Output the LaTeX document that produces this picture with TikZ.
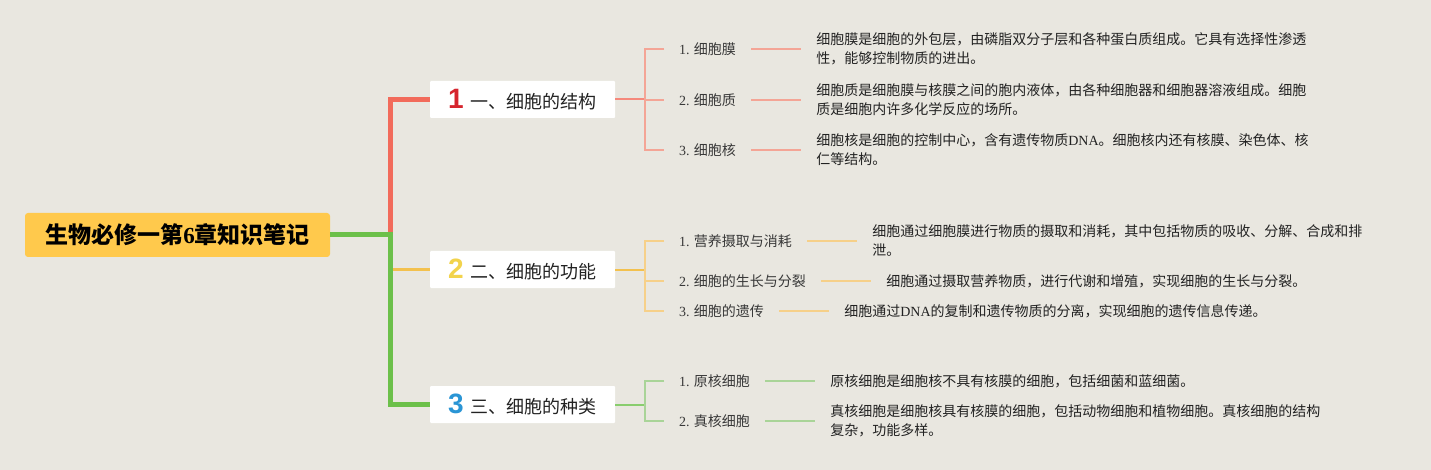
\documentclass[tikz,border=0pt]{standalone}
\usepackage{fontspec}
\setmainfont{Noto Sans CJK SC}
\newfontfamily\enfont{Liberation Serif}
\newfontfamily\numfont{Liberation Sans}
\usepackage{tikz}
\usetikzlibrary{positioning,calc}
\usepackage{xcolor}
\definecolor{mmbg}{HTML}{E9E7E0}
\definecolor{mmroot}{HTML}{FFC94C}
\definecolor{mmtext}{HTML}{222222}
\definecolor{mmred}{HTML}{F26B5B}
\definecolor{mmredlt}{HTML}{F4A596}
\definecolor{mmyel}{HTML}{F3C14E}
\definecolor{mmyellt}{HTML}{F6D089}
\definecolor{mmgreen}{HTML}{6CC04A}
\definecolor{mmgreenlt}{HTML}{A9D498}
\definecolor{numred}{HTML}{D6252E}
\definecolor{numyel}{HTML}{F2D34C}
\definecolor{numblue}{HTML}{2A95D5}
\newcommand{\en}[1]{{\enfont #1}}
\newcommand{\badge}[2]{{\numfont\bfseries\fontsize{28}{28}\selectfont\textcolor{#1}{#2}}\hspace{7pt}}

\begin{document}
\begin{tikzpicture}[
  x=1pt, y=-1pt,
  node distance=50pt,
  root/.style={
    rectangle, fill=mmroot, rounded corners=3pt,
    minimum width=305pt, minimum height=44pt, inner sep=0pt,
    font=\bfseries\fontsize{23}{23}\selectfont, text=black
  },
  topic/.style={
    rectangle, fill=white, rounded corners=1pt,
    minimum width=185pt, minimum height=37pt, inner sep=0pt,
    font=\fontsize{18}{18}\selectfont, text=mmtext
  },
  leaf/.style={
    anchor=west, inner xsep=15pt, inner ysep=2pt,
    font=\fontsize{14}{19}\selectfont, text=mmtext!90
  },
  desc/.style={
    inner xsep=15pt, inner ysep=2pt, align=left,
    font=\fontsize{14}{19}\selectfont, text=mmtext
  },
  trunk/.style={line width=5pt},
]
  \fill[mmbg] (0,0) rectangle (1431,470);
  \useasboundingbox (0,0) rectangle (1431,470);

  % Root and topics
  \node[root] (root) at (177.5,235) {生物必修一第\en{6}章知识笔记};
  \node[topic] (b1) at (522.5,99.5) {\badge{numred}{1}一、细胞的结构};
  \node[topic] (b2) at (522.5,269.5) {\badge{numyel}{2}二、细胞的功能};
  \node[topic] (b3) at (522.5,404.5) {\badge{numblue}{3}三、细胞的种类};
  \coordinate (hub) at (390,235);

  % Leaves
  \node[leaf] (l11) at (664,49) {\en{1.} 细胞膜};
  \node[leaf] (l12) at (664,100) {\en{2.} 细胞质};
  \node[leaf] (l13) at (664,150) {\en{3.} 细胞核};
  \node[leaf] (l21) at (664,241) {\en{1.} 营养摄取与消耗};
  \node[leaf] (l22) at (664,281) {\en{2.} 细胞的生长与分裂};
  \node[leaf] (l23) at (664,311) {\en{3.} 细胞的遗传};
  \node[leaf] (l31) at (664,381) {\en{1.} 原核细胞};
  \node[leaf] (l32) at (664,421) {\en{2.} 真核细胞};

  % Descriptions
  \node[desc, right=of l11] (d11) {细胞膜是细胞的外包层，由磷脂双分子层和各种蛋白质组成。它具有选择性渗透\\性，能够控制物质的进出。};
  \node[desc, right=of l12] (d12) {细胞质是细胞膜与核膜之间的胞内液体，由各种细胞器和细胞器溶液组成。细胞\\质是细胞内许多化学反应的场所。};
  \node[desc, right=of l13] (d13) {细胞核是细胞的控制中心，含有遗传物质\en{DNA}。细胞核内还有核膜、染色体、核\\仁等结构。};
  \node[desc, right=of l21] (d21) {细胞通过细胞膜进行物质的摄取和消耗，其中包括物质的吸收、分解、合成和排\\泄。};
  \node[desc, right=of l22] (d22) {细胞通过摄取营养物质，进行代谢和增殖，实现细胞的生长与分裂。};
  \node[desc, right=of l23] (d23) {细胞通过\en{DNA}的复制和遗传物质的分离，实现细胞的遗传信息传递。};
  \node[desc, right=of l31] (d31) {原核细胞是细胞核不具有核膜的细胞，包括细菌和蓝细菌。};
  \node[desc, right=of l32] (d32) {真核细胞是细胞核具有核膜的细胞，包括动物细胞和植物细胞。真核细胞的结构\\复杂，功能多样。};

  % Trunk lines
  \draw[trunk, mmred] (hub) |- (b1.west);
  \draw[mmyel, line width=2.5pt] (hub |- b2.west) -- (b2.west);
  \draw[trunk, mmgreen] (root.east) -- (hub) |- (b3.west);

  % Brackets
  \coordinate (k1) at (645,99.5);
  \coordinate (k2) at (645,269.5);
  \coordinate (k3) at (645,404.5);
  \draw[mmred!80, line width=2pt] (b1.east) -- (k1);
  \draw[mmredlt, line width=1.3pt] (l11.west) -| (k1) |- (l13.west);
  \draw[mmredlt, line width=1.3pt] (k1) |- (l12.west);
  \draw[mmyel, line width=2pt] (b2.east) -- (k2);
  \draw[mmyellt, line width=1.3pt] (l21.west) -| (k2) |- (l23.west);
  \draw[mmyellt, line width=1.3pt] (k2) |- (l22.west);
  \draw[mmgreen!80, line width=2pt] (b3.east) -- (k3);
  \draw[mmgreenlt, line width=1.3pt] (l31.west) -| (k3) |- (l32.west);

  % Leaf to description
  \foreach \a/\c in {11/mmredlt,12/mmredlt,13/mmredlt,21/mmyellt,22/mmyellt,23/mmyellt,31/mmgreenlt,32/mmgreenlt}
    \draw[\c, line width=1.5pt] (l\a.east) -- (d\a.west);
\end{tikzpicture}
\end{document}
